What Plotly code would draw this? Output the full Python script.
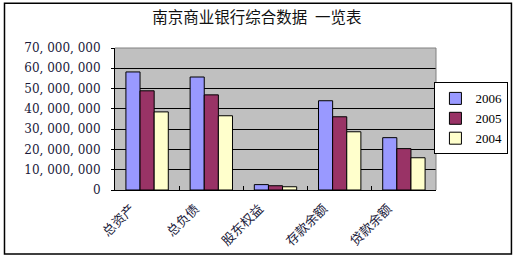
import plotly.graph_objects as go

categories = ["总资产", "总负债", "股东权益", "存款余额", "贷款余额"]
series_names = ["2006", "2005", "2004"]
v2006 = [58200000, 55700000, 2650000, 44000000, 25800000]
v2005 = [48900000, 46900000, 2100000, 36100000, 20400000]
v2004 = [38500000, 36600000, 1600000, 28700000, 15900000]
ytick_vals = [0, 10000000, 20000000, 30000000, 40000000, 50000000, 60000000, 70000000]
ytick_text = ["0", "10, 000, 000", "20, 000, 000", "30, 000, 000", "40, 000, 000",
              "50, 000, 000", "60, 000, 000", "70, 000, 000"]
title_text = "南京商业银行综合数据\u2002一览表"

colors = ["#9999FF", "#993366", "#FFFFCC"]

fig = go.Figure()
for name, vals, c in zip(series_names, [v2006, v2005, v2004], colors):
    fig.add_trace(go.Bar(x=categories, y=vals, name=name,
                         marker=dict(color=c, line=dict(color="black", width=1))))

W, H = 515, 260
ml, mr, mt, mb = 115.3, 79.3, 48.3, 69.6
pw = W - ml - mr
ph = H - mt - mb

def px_to_paper_x(px):
    return (px - ml) / pw

def px_to_paper_y(py):
    return (H - mb - py) / ph

fig.update_layout(
    width=W, height=H,
    margin=dict(l=ml, r=mr, t=mt, b=mb, pad=0, autoexpand=False),
    paper_bgcolor="white",
    plot_bgcolor="#C0C0C0",
    barmode="group",
    bargap=0.34,
    bargroupgap=0,
    title=dict(text=title_text, x=257 / W, xref="container", xanchor="center",
               y=1 - 18 / H, yanchor="middle",
               font=dict(family="Noto Sans CJK SC", size=15.5, color="#111111")),
    font=dict(family="DejaVu Serif", size=12, color="#000000"),
    legend=dict(x=px_to_paper_x(508), y=px_to_paper_y(118.8),
                xanchor="right", yanchor="middle",
                bgcolor="white", bordercolor="black", borderwidth=1,
                font=dict(family="Liberation Serif", size=13, color="#000000"),
                tracegroupgap=0, itemwidth=30),
    showlegend=True,
)

fig.update_xaxes(
    type="category",
    showline=True, linecolor="black", linewidth=1,
    ticks="inside", tickson="boundaries", ticklen=4, tickcolor="black",
    tickangle=-45,
    tickfont=dict(family="Noto Sans CJK SC", size=13, color="#1a1a3a"),
    ticklabelshift=-16,
    ticklabelstandoff=5,
    showgrid=False,
)
fig.update_yaxes(
    range=[0, 70000000],
    tickvals=ytick_vals, ticktext=ytick_text,
    showline=True, linecolor="black", linewidth=1,
    ticks="outside", ticklen=3, tickcolor="black",
    ticklabelstandoff=8,
    showgrid=True, gridcolor="black", gridwidth=1,
    zeroline=False,
    tickfont=dict(family="DejaVu Serif", size=12, color="#1a1a3a"),
)

# plot-area top and right edges (grey)
fig.add_shape(type="line", xref="paper", yref="paper", x0=0, x1=1, y0=1, y1=1,
              line=dict(color="#808080", width=1))
fig.add_shape(type="line", xref="paper", yref="paper", x0=1, x1=1, y0=0, y1=1,
              line=dict(color="#808080", width=1))

# outer chart border
fig.add_shape(type="rect", xref="paper", yref="paper",
              x0=px_to_paper_x(5), x1=px_to_paper_x(511),
              y0=px_to_paper_y(254.5), y1=px_to_paper_y(3.5),
              line=dict(color="black", width=1.5), fillcolor="rgba(0,0,0,0)")

fig.write_html("out.html",
               config={"displayModeBar": False},
               post_script="document.body.style.margin='0';document.body.style.overflow='hidden';")
